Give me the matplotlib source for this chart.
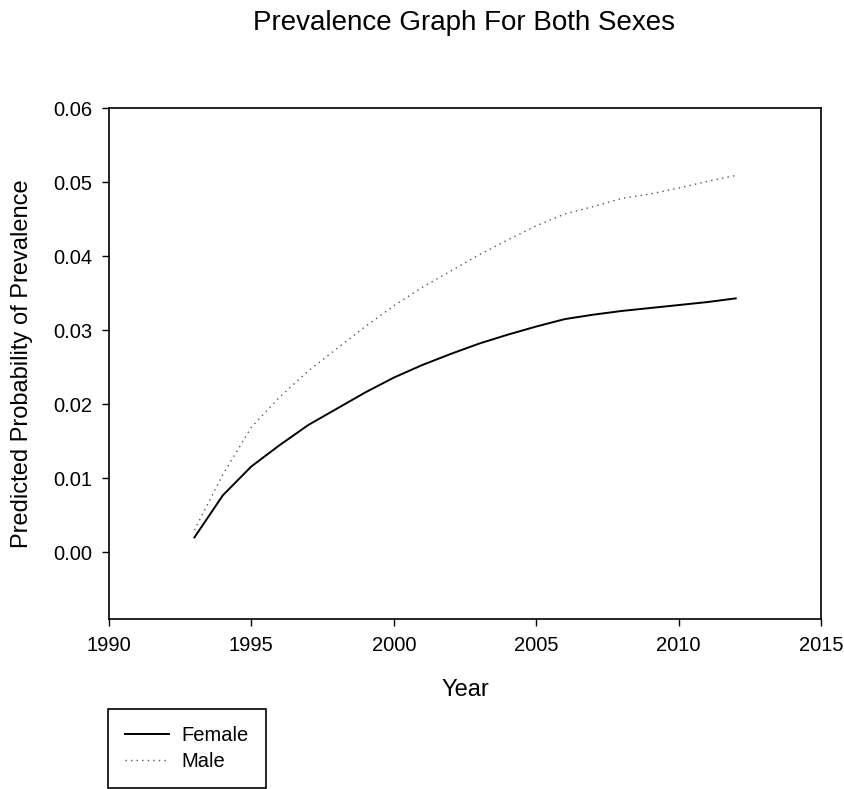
import matplotlib.pyplot as plt

plt.rcParams["font.family"] = ["Liberation Sans", "DejaVu Sans"]

years = list(range(1993, 2013))
female = [0.0020, 0.0077, 0.0116, 0.0145, 0.0172, 0.0194, 0.0216, 0.0236, 0.0253, 0.0268,
          0.0282, 0.0294, 0.0305, 0.0315, 0.0321, 0.0326, 0.0330, 0.0334, 0.0338, 0.0343]
male = [0.0030, 0.0105, 0.0169, 0.0210, 0.0245, 0.0275, 0.0305, 0.0333, 0.0358, 0.0380,
        0.0402, 0.0422, 0.0441, 0.0457, 0.0467, 0.0478, 0.0484, 0.0492, 0.0501, 0.0509]
xticks = [1990, 1995, 2000, 2005, 2010, 2015]
yticks = [0.00, 0.01, 0.02, 0.03, 0.04, 0.05, 0.06]

fig = plt.figure(figsize=(8.44, 7.89), dpi=100)
ax = fig.add_axes([0.129, 0.2155, 0.844, 0.6475])

l1, = ax.plot(years, female, color="black", lw=1.4, label="Female")
l2, = ax.plot(years, male, color="#555555", lw=1.0, ls=(0, (1, 3)), label="Male")

ax.set_xlim(1990, 2015)
ax.set_ylim(-0.009, 0.06)
ax.set_xticks(xticks)
ax.set_yticks(yticks)
ax.set_yticklabels([f"{v:.2f}" for v in yticks])
ax.tick_params(direction="out", length=5, width=1, labelsize=14.5, pad=7,
               top=False, right=False)
for s in ax.spines.values():
    s.set_linewidth(1.2)

ax.set_xlabel("Year", fontsize=17, va="center")
ax.xaxis.set_label_coords(0.5, -0.139)
ax.set_ylabel("Predicted Probability of Prevalence", fontsize=17, va="center")
ax.yaxis.set_label_coords(-0.122, 0.5)
fig.text(464 / 844, 1 - 30 / 789, "Prevalence Graph For Both Sexes", fontsize=20,
         ha="center", va="baseline")

leg = fig.legend(handles=[l1, l2], loc="upper left", bbox_to_anchor=(108 / 844, 1 - 709 / 789),
                 borderaxespad=0, fancybox=False, edgecolor="black", fontsize=14.5,
                 handlelength=2.2, handletextpad=0.6, borderpad=0.85, labelspacing=0.35,
                 framealpha=1)
leg.get_frame().set_linewidth(1.2)

fig.savefig("out.png", dpi=100)
